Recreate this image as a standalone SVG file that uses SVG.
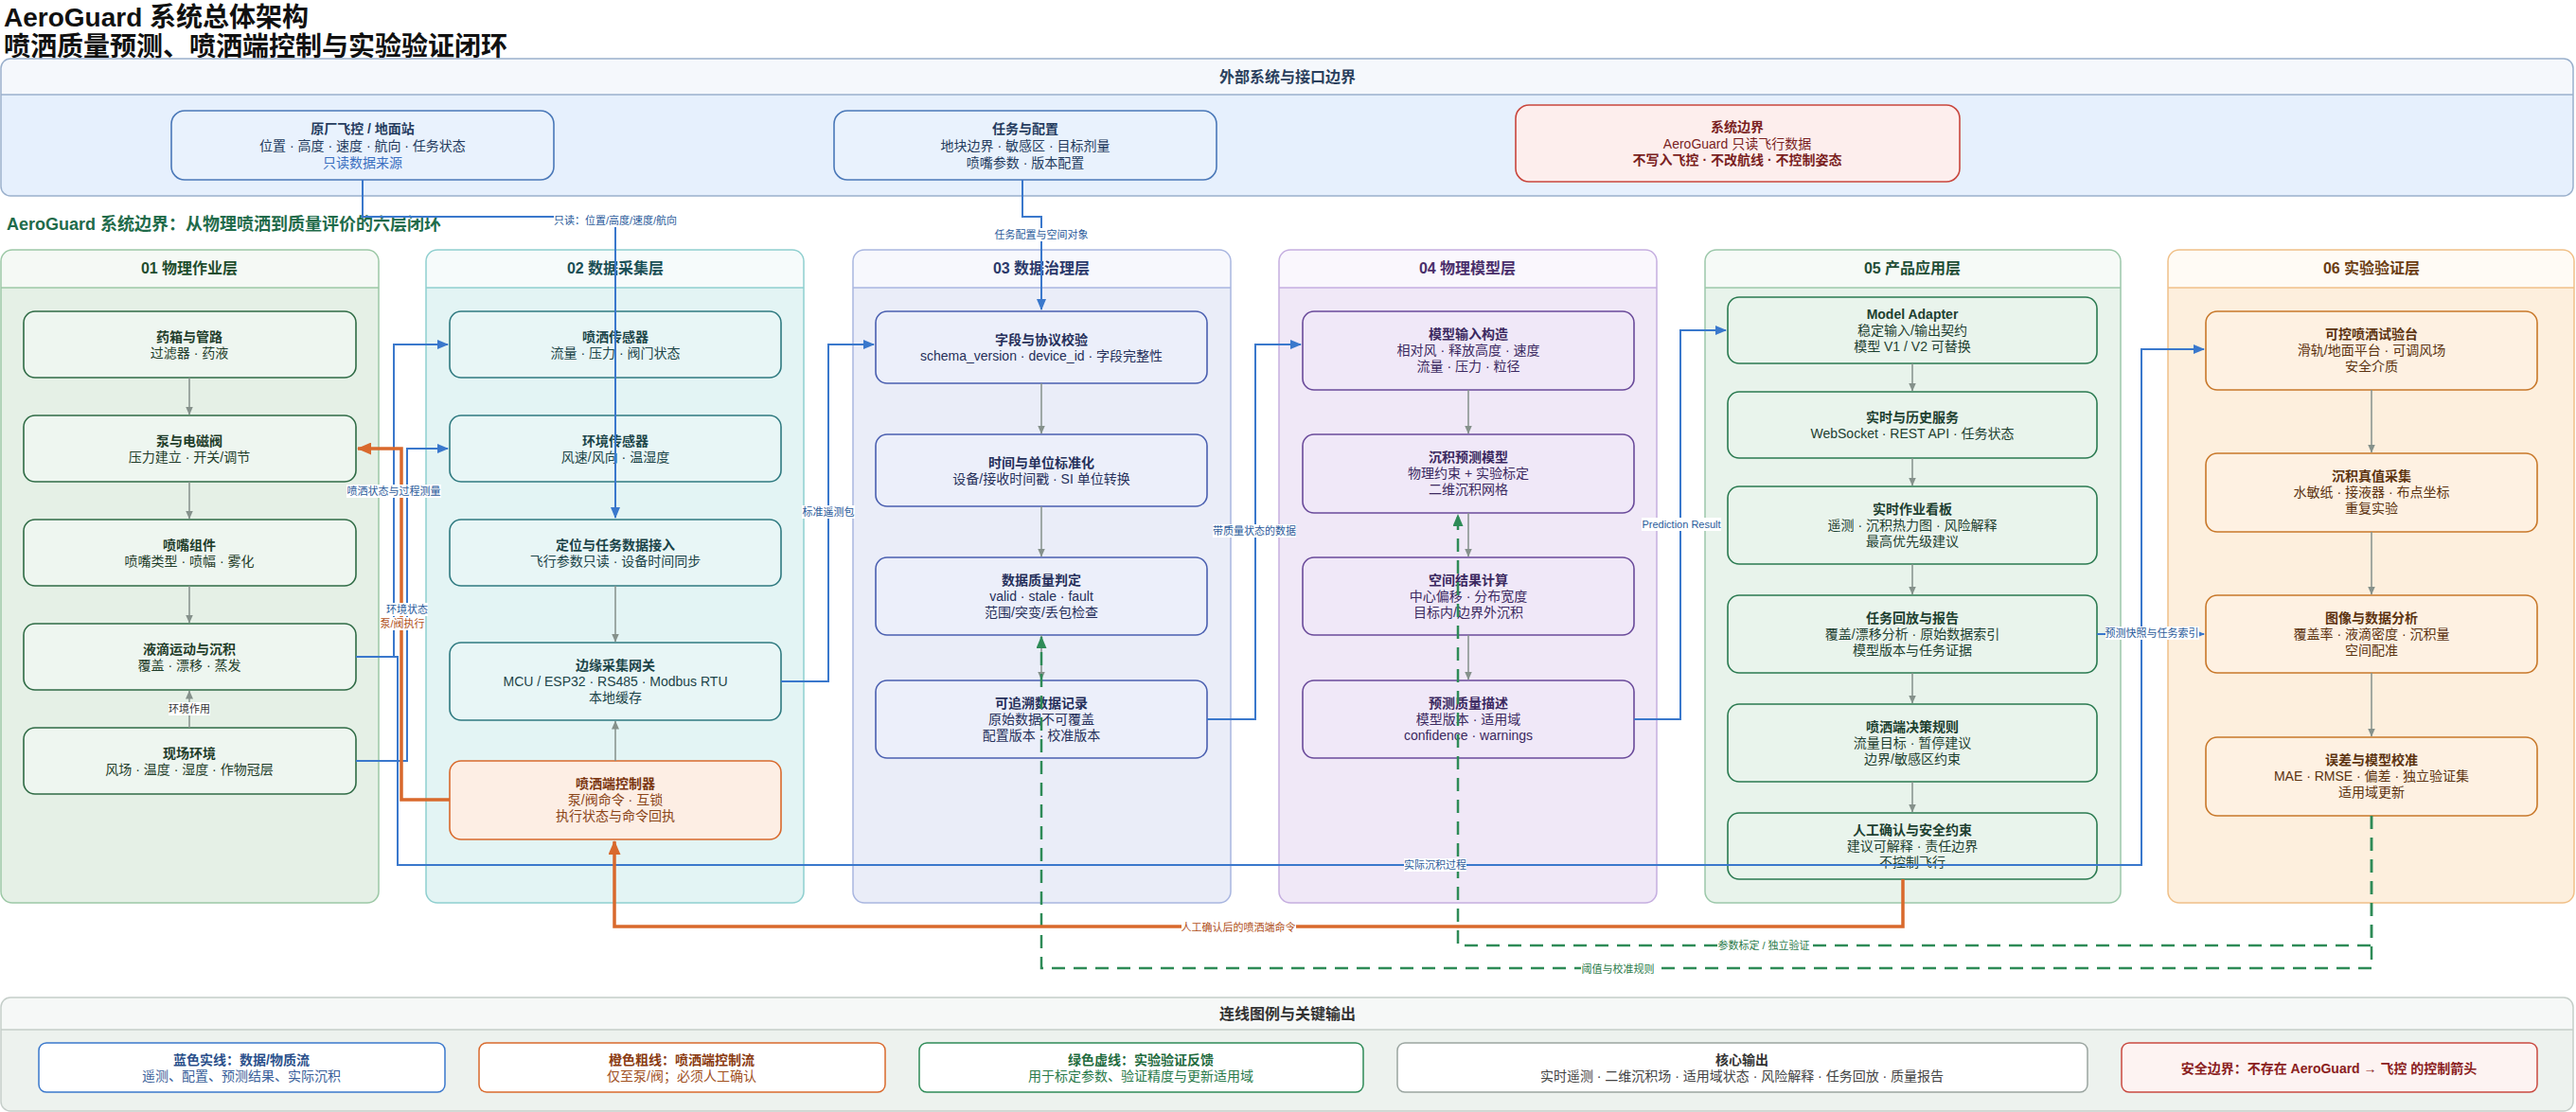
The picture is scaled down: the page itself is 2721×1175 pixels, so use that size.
<svg xmlns="http://www.w3.org/2000/svg" width="2721" height="1175" viewBox="0 0 2721 1175">
<style>
text{font-family:"Liberation Sans","Noto Sans CJK SC",sans-serif;dominant-baseline:central}
.ttl{font-size:28px;font-weight:bold;fill:#111}
.h{font-size:16px;font-weight:bold;text-anchor:middle}
.nt{font-size:14px;font-weight:bold;text-anchor:middle}
.ns{font-size:14px;text-anchor:middle}
.el{font-size:11px;text-anchor:middle}
.node rect{stroke-width:1.6}
.L1 rect{fill:#eef6f0;stroke:#2f6b45}.L1 text{fill:#1f3d2a}
.L2 rect{fill:#e8f6f6;stroke:#2f7a80}.L2 text{fill:#1b4448}
.L3 rect{fill:#eceffa;stroke:#4a5fb0}.L3 text{fill:#26305a}
.L4 rect{fill:#f0e8f8;stroke:#6a4a9a}.L4 text{fill:#3b2960}
.L5 rect{fill:#e9f4ec;stroke:#2a7a50}.L5 text{fill:#1d4030}
.L6 rect{fill:#fef1e2;stroke:#c8782a}.L6 text{fill:#5c3310}
.EX rect{fill:#e9f2fd;stroke:#4a78b8}.EX text{fill:#243b5e}
.lb{fill:#fff}
.cb{fill:none;stroke:#3a78cc;stroke-width:2}
.co{fill:none;stroke:#d9692c;stroke-width:3.5}
.cg{fill:none;stroke:#2e8b57;stroke-width:2.5;stroke-dasharray:14 9}
.cy{fill:none;stroke:#85918b;stroke-width:1.5}
.tb{fill:#2a5a9a}.to{fill:#b0501a}.tg{fill:#2a7a4a}
</style>
<defs>
<marker id="ab" markerWidth="12" markerHeight="10" refX="11" refY="5" orient="auto" markerUnits="userSpaceOnUse"><path d="M0,0 L12,5 L0,10 z" fill="#3a78cc"/></marker>
<marker id="ao" markerWidth="15" markerHeight="13" refX="14" refY="6.5" orient="auto" markerUnits="userSpaceOnUse"><path d="M0,0 L15,6.5 L0,13 z" fill="#d9692c"/></marker>
<marker id="ag" markerWidth="13" markerHeight="11" refX="12" refY="5.5" orient="auto" markerUnits="userSpaceOnUse"><path d="M0,0 L13,5.5 L0,11 z" fill="#2e8b57"/></marker>
<marker id="ay" markerWidth="9" markerHeight="8" refX="8.5" refY="4" orient="auto" markerUnits="userSpaceOnUse"><path d="M0,0 L9,4 L0,8 z" fill="#85918b"/></marker>
</defs>
<rect width="2721" height="1175" fill="#fff"/>
<text class="ttl" x="4" y="18">AeroGuard 系统总体架构</text>
<text class="ttl" x="4" y="49">喷洒质量预测、喷洒端控制与实验验证闭环</text>

<g id="external">
<rect x="1" y="62" width="2717" height="145" rx="10" fill="#e6f0fd"/>
<path d="M1,100 V72 a10,10 0 0 1 10,-10 H2708 a10,10 0 0 1 10,10 V100 Z" fill="#f5f8fc"/>
<line x1="1" y1="100" x2="2718" y2="100" stroke="#9ab0cc" stroke-width="1.5"/>
<rect x="1" y="62" width="2717" height="145" rx="10" fill="none" stroke="#9ab0cc" stroke-width="1.5"/>
<text class="h" x="1360" y="81" fill="#2a3f5c">外部系统与接口边界</text>
</g>
<text x="7" y="237" font-size="18" font-weight="bold" fill="#1f6b4a">AeroGuard 系统边界：从物理喷洒到质量评价的六层闭环</text>

<g id="layer01">
<rect x="1" y="264" width="399" height="690" rx="12" fill="#e5f0e6"/>
<path d="M1,304 V276 a12,12 0 0 1 12,-12 H388 a12,12 0 0 1 12,12 V304 Z" fill="#f5f9f5"/>
<line x1="1" y1="304" x2="400" y2="304" stroke="#9cc8a6" stroke-width="1.5"/>
<rect x="1" y="264" width="399" height="690" rx="12" fill="none" stroke="#9cc8a6" stroke-width="1.5"/>
<text class="h" x="200" y="283" fill="#1f4d2e">01 物理作业层</text>
</g>
<g id="layer02">
<rect x="450" y="264" width="399" height="690" rx="12" fill="#e3f4f4"/>
<path d="M450,304 V276 a12,12 0 0 1 12,-12 H837 a12,12 0 0 1 12,12 V304 Z" fill="#f6fbfb"/>
<line x1="450" y1="304" x2="849" y2="304" stroke="#8fcfcf" stroke-width="1.5"/>
<rect x="450" y="264" width="399" height="690" rx="12" fill="none" stroke="#8fcfcf" stroke-width="1.5"/>
<text class="h" x="650" y="283" fill="#1a4f55">02 数据采集层</text>
</g>
<g id="layer03">
<rect x="901" y="264" width="399" height="690" rx="12" fill="#eaedf8"/>
<path d="M901,304 V276 a12,12 0 0 1 12,-12 H1288 a12,12 0 0 1 12,12 V304 Z" fill="#f7f8fd"/>
<line x1="901" y1="304" x2="1300" y2="304" stroke="#a9b6e0" stroke-width="1.5"/>
<rect x="901" y="264" width="399" height="690" rx="12" fill="none" stroke="#a9b6e0" stroke-width="1.5"/>
<text class="h" x="1100" y="283" fill="#2b3a6b">03 数据治理层</text>
</g>
<g id="layer04">
<rect x="1351" y="264" width="399" height="690" rx="12" fill="#f0e8f7"/>
<path d="M1351,304 V276 a12,12 0 0 1 12,-12 H1738 a12,12 0 0 1 12,12 V304 Z" fill="#faf7fd"/>
<line x1="1351" y1="304" x2="1750" y2="304" stroke="#c5aee0" stroke-width="1.5"/>
<rect x="1351" y="264" width="399" height="690" rx="12" fill="none" stroke="#c5aee0" stroke-width="1.5"/>
<text class="h" x="1550" y="283" fill="#4a2f6b">04 物理模型层</text>
</g>
<g id="layer05">
<rect x="1801" y="264" width="439" height="690" rx="12" fill="#e8f3eb"/>
<path d="M1801,304 V276 a12,12 0 0 1 12,-12 H2228 a12,12 0 0 1 12,12 V304 Z" fill="#f6faf7"/>
<line x1="1801" y1="304" x2="2240" y2="304" stroke="#9cc8aa" stroke-width="1.5"/>
<rect x="1801" y="264" width="439" height="690" rx="12" fill="none" stroke="#9cc8aa" stroke-width="1.5"/>
<text class="h" x="2020" y="283" fill="#1f4d36">05 产品应用层</text>
</g>
<g id="layer06">
<rect x="2290" y="264" width="429" height="690" rx="12" fill="#fdefdd"/>
<path d="M2290,304 V276 a12,12 0 0 1 12,-12 H2707 a12,12 0 0 1 12,12 V304 Z" fill="#fffbf5"/>
<line x1="2290" y1="304" x2="2719" y2="304" stroke="#f0c088" stroke-width="1.5"/>
<rect x="2290" y="264" width="429" height="690" rx="12" fill="none" stroke="#f0c088" stroke-width="1.5"/>
<text class="h" x="2505" y="283" fill="#6b3d12">06 实验验证层</text>
</g>

<g id="legend">
<rect x="1" y="1054" width="2717" height="120" rx="10" fill="#edf2ee"/>
<path d="M1,1088 V1064 a10,10 0 0 1 10,-10 H2708 a10,10 0 0 1 10,10 V1088 Z" fill="#f6f8f7"/>
<line x1="1" y1="1088" x2="2718" y2="1088" stroke="#c5cec9" stroke-width="1.5"/>
<rect x="1" y="1054" width="2717" height="120" rx="10" fill="none" stroke="#c5cec9" stroke-width="1.5"/>
<text class="h" x="1360" y="1071" font-size="15" fill="#333">连线图例与关键输出</text>
</g>
<g id="legend-blue"><rect x="41" y="1102" width="429" height="52" rx="8" fill="#fff" stroke="#3a78cc" stroke-width="1.5"/><text class="nt" x="255" y="1120" font-size="13" fill="#2a4f8a">蓝色实线：数据/物质流</text><text class="ns" x="255" y="1137" font-size="13" fill="#3a5f9a">遥测、配置、预测结果、实际沉积</text></g>
<g id="legend-orange"><rect x="506" y="1102" width="429" height="52" rx="8" fill="#fff" stroke="#d9692c" stroke-width="1.5"/><text class="nt" x="720" y="1120" font-size="13" fill="#8a3a10">橙色粗线：喷洒端控制流</text><text class="ns" x="720" y="1137" font-size="13" fill="#a0501e">仅至泵/阀；必须人工确认</text></g>
<g id="legend-green"><rect x="971" y="1102" width="469" height="52" rx="8" fill="#fff" stroke="#2e8b57" stroke-width="1.5"/><text class="nt" x="1205" y="1120" font-size="13" fill="#1f6b3e">绿色虚线：实验验证反馈</text><text class="ns" x="1205" y="1137" font-size="13" fill="#2a7a4a">用于标定参数、验证精度与更新适用域</text></g>
<g id="legend-output"><rect x="1476" y="1102" width="729" height="52" rx="8" fill="#fff" stroke="#9aa5a0" stroke-width="1.5"/><text class="nt" x="1840" y="1120" font-size="13" fill="#333">核心输出</text><text class="ns" x="1840" y="1137" font-size="13" fill="#444">实时遥测 · 二维沉积场 · 适用域状态 · 风险解释 · 任务回放 · 质量报告</text></g>
<g id="legend-safety"><rect x="2241" y="1102" width="439" height="52" rx="8" fill="#fdf3f2" stroke="#c94a40" stroke-width="1.5"/><text class="nt" x="2460" y="1129" font-size="13" fill="#8a2020">安全边界：不存在 AeroGuard → 飞控 的控制箭头</text></g>

<g id="n-fc" class="node EX"><rect x="181" y="117" width="404" height="73" rx="14"/><text class="nt" x="383" y="136">原厂飞控 / 地面站</text><text class="ns" x="383" y="154">位置 · 高度 · 速度 · 航向 · 任务状态</text><text class="ns" x="383" y="172" style="fill:#3a6fc0">只读数据来源</text></g>
<g id="n-task" class="node EX"><rect x="881" y="117" width="404" height="73" rx="14"/><text class="nt" x="1083" y="136">任务与配置</text><text class="ns" x="1083" y="154">地块边界 · 敏感区 · 目标剂量</text><text class="ns" x="1083" y="172">喷嘴参数 · 版本配置</text></g>
<g id="n-boundary" class="node"><rect x="1601" y="111" width="469" height="81" rx="14" fill="#fdeeed" stroke="#c9463d" stroke-width="2.5"/><text class="nt" x="1835" y="134" fill="#7a1f1f">系统边界</text><text class="ns" x="1835" y="152" fill="#7a1f1f">AeroGuard 只读飞行数据</text><text class="nt" x="1835" y="169" fill="#7a1f1f">不写入飞控 · 不改航线 · 不控制姿态</text></g>

<g id="n-tank" class="node L1"><rect x="25" y="329" width="351" height="70" rx="12"/><text class="nt" x="200" y="356">药箱与管路</text><text class="ns" x="200" y="373">过滤器 · 药液</text></g>
<g id="n-pump" class="node L1"><rect x="25" y="439" width="351" height="70" rx="12"/><text class="nt" x="200" y="466">泵与电磁阀</text><text class="ns" x="200" y="483">压力建立 · 开关/调节</text></g>
<g id="n-nozzle" class="node L1"><rect x="25" y="549" width="351" height="70" rx="12"/><text class="nt" x="200" y="576">喷嘴组件</text><text class="ns" x="200" y="593">喷嘴类型 · 喷幅 · 雾化</text></g>
<g id="n-droplet" class="node L1"><rect x="25" y="659" width="351" height="70" rx="12"/><text class="nt" x="200" y="686">液滴运动与沉积</text><text class="ns" x="200" y="703">覆盖 · 漂移 · 蒸发</text></g>
<g id="n-field" class="node L1"><rect x="25" y="769" width="351" height="70" rx="12"/><text class="nt" x="200" y="796">现场环境</text><text class="ns" x="200" y="813">风场 · 温度 · 湿度 · 作物冠层</text></g>

<g id="n-spraysensor" class="node L2"><rect x="475" y="329" width="350" height="70" rx="12"/><text class="nt" x="650" y="356">喷洒传感器</text><text class="ns" x="650" y="373">流量 · 压力 · 阀门状态</text></g>
<g id="n-envsensor" class="node L2"><rect x="475" y="439" width="350" height="70" rx="12"/><text class="nt" x="650" y="466">环境传感器</text><text class="ns" x="650" y="483">风速/风向 · 温湿度</text></g>
<g id="n-position" class="node L2"><rect x="475" y="549" width="350" height="70" rx="12"/><text class="nt" x="650" y="576">定位与任务数据接入</text><text class="ns" x="650" y="593">飞行参数只读 · 设备时间同步</text></g>
<g id="n-gateway" class="node L2"><rect x="475" y="679" width="350" height="82" rx="12"/><text class="nt" x="650" y="703">边缘采集网关</text><text class="ns" x="650" y="720">MCU / ESP32 · RS485 · Modbus RTU</text><text class="ns" x="650" y="737">本地缓存</text></g>
<g id="n-controller" class="node"><rect x="475" y="804" width="350" height="83" rx="12" fill="#fdeee4" stroke="#d9692c" stroke-width="2.5"/><text class="nt" x="650" y="828" fill="#7a3510">喷洒端控制器</text><text class="ns" x="650" y="845" fill="#8a4518">泵/阀命令 · 互锁</text><text class="ns" x="650" y="862" fill="#8a4518">执行状态与命令回执</text></g>

<g id="n-schema" class="node L3"><rect x="925" y="329" width="350" height="76" rx="12"/><text class="nt" x="1100" y="359">字段与协议校验</text><text class="ns" x="1100" y="376">schema_version · device_id · 字段完整性</text></g>
<g id="n-time" class="node L3"><rect x="925" y="459" width="350" height="76" rx="12"/><text class="nt" x="1100" y="489">时间与单位标准化</text><text class="ns" x="1100" y="506">设备/接收时间戳 · SI 单位转换</text></g>
<g id="n-dq" class="node L3"><rect x="925" y="589" width="350" height="82" rx="12"/><text class="nt" x="1100" y="613">数据质量判定</text><text class="ns" x="1100" y="630">valid · stale · fault</text><text class="ns" x="1100" y="647">范围/突变/丢包检查</text></g>
<g id="n-trace" class="node L3"><rect x="925" y="719" width="350" height="82" rx="12"/><text class="nt" x="1100" y="743">可追溯数据记录</text><text class="ns" x="1100" y="760">原始数据不可覆盖</text><text class="ns" x="1100" y="777">配置版本 · 校准版本</text></g>

<g id="n-input" class="node L4"><rect x="1376" y="329" width="350" height="83" rx="12"/><text class="nt" x="1551" y="353">模型输入构造</text><text class="ns" x="1551" y="370">相对风 · 释放高度 · 速度</text><text class="ns" x="1551" y="387">流量 · 压力 · 粒径</text></g>
<g id="n-deposit" class="node L4"><rect x="1376" y="459" width="350" height="83" rx="12"/><text class="nt" x="1551" y="483">沉积预测模型</text><text class="ns" x="1551" y="500">物理约束 + 实验标定</text><text class="ns" x="1551" y="517">二维沉积网格</text></g>
<g id="n-spatial" class="node L4"><rect x="1376" y="589" width="350" height="82" rx="12"/><text class="nt" x="1551" y="613">空间结果计算</text><text class="ns" x="1551" y="630">中心偏移 · 分布宽度</text><text class="ns" x="1551" y="647">目标内/边界外沉积</text></g>
<g id="n-predq" class="node L4"><rect x="1376" y="719" width="350" height="82" rx="12"/><text class="nt" x="1551" y="743">预测质量描述</text><text class="ns" x="1551" y="760">模型版本 · 适用域</text><text class="ns" x="1551" y="777">confidence · warnings</text></g>

<g id="n-adapter" class="node L5"><rect x="1825" y="314" width="390" height="70" rx="12"/><text class="nt" x="2020" y="332">Model Adapter</text><text class="ns" x="2020" y="349">稳定输入/输出契约</text><text class="ns" x="2020" y="366">模型 V1 / V2 可替换</text></g>
<g id="n-service" class="node L5"><rect x="1825" y="414" width="390" height="70" rx="12"/><text class="nt" x="2020" y="441">实时与历史服务</text><text class="ns" x="2020" y="458">WebSocket · REST API · 任务状态</text></g>
<g id="n-dashboard" class="node L5"><rect x="1825" y="514" width="390" height="82" rx="12"/><text class="nt" x="2020" y="538">实时作业看板</text><text class="ns" x="2020" y="555">遥测 · 沉积热力图 · 风险解释</text><text class="ns" x="2020" y="572">最高优先级建议</text></g>
<g id="n-replay" class="node L5"><rect x="1825" y="629" width="390" height="82" rx="12"/><text class="nt" x="2020" y="653">任务回放与报告</text><text class="ns" x="2020" y="670">覆盖/漂移分析 · 原始数据索引</text><text class="ns" x="2020" y="687">模型版本与任务证据</text></g>
<g id="n-rules" class="node L5"><rect x="1825" y="744" width="390" height="82" rx="12"/><text class="nt" x="2020" y="768">喷洒端决策规则</text><text class="ns" x="2020" y="785">流量目标 · 暂停建议</text><text class="ns" x="2020" y="802">边界/敏感区约束</text></g>
<g id="n-confirm" class="node L5"><rect x="1825" y="859" width="390" height="70" rx="12"/><text class="nt" x="2020" y="877">人工确认与安全约束</text><text class="ns" x="2020" y="894">建议可解释 · 责任边界</text><text class="ns" x="2020" y="911">不控制飞行</text></g>

<g id="n-testbed" class="node L6"><rect x="2330" y="329" width="350" height="83" rx="12"/><text class="nt" x="2505" y="353">可控喷洒试验台</text><text class="ns" x="2505" y="370">滑轨/地面平台 · 可调风场</text><text class="ns" x="2505" y="387">安全介质</text></g>
<g id="n-truth" class="node L6"><rect x="2330" y="479" width="350" height="83" rx="12"/><text class="nt" x="2505" y="503">沉积真值采集</text><text class="ns" x="2505" y="520">水敏纸 · 接液器 · 布点坐标</text><text class="ns" x="2505" y="537">重复实验</text></g>
<g id="n-image" class="node L6"><rect x="2330" y="629" width="350" height="82" rx="12"/><text class="nt" x="2505" y="653">图像与数据分析</text><text class="ns" x="2505" y="670">覆盖率 · 液滴密度 · 沉积量</text><text class="ns" x="2505" y="687">空间配准</text></g>
<g id="n-calib" class="node L6"><rect x="2330" y="779" width="350" height="83" rx="12"/><text class="nt" x="2505" y="803">误差与模型校准</text><text class="ns" x="2505" y="820">MAE · RMSE · 偏差 · 独立验证集</text><text class="ns" x="2505" y="837">适用域更新</text></g>

<g id="connectors">
<path class="cy" d="M200,399 V438" marker-end="url(#ay)"/>
<path class="cy" d="M200,509 V548" marker-end="url(#ay)"/>
<path class="cy" d="M200,619 V658" marker-end="url(#ay)"/>
<path class="cy" d="M200,769 V730" marker-end="url(#ay)"/>
<path class="cy" d="M650,619 V678" marker-end="url(#ay)"/>
<path class="cy" d="M650,804 V762" marker-end="url(#ay)"/>
<path class="cy" d="M1100,405 V458" marker-end="url(#ay)"/>
<path class="cy" d="M1100,535 V588" marker-end="url(#ay)"/>
<path class="cy" d="M1100,671 V718" marker-end="url(#ay)"/>
<path class="cy" d="M1551,412 V458" marker-end="url(#ay)"/>
<path class="cy" d="M1551,542 V588" marker-end="url(#ay)"/>
<path class="cy" d="M1551,671 V718" marker-end="url(#ay)"/>
<path class="cy" d="M2020,384 V413" marker-end="url(#ay)"/>
<path class="cy" d="M2020,484 V513" marker-end="url(#ay)"/>
<path class="cy" d="M2020,596 V628" marker-end="url(#ay)"/>
<path class="cy" d="M2020,711 V743" marker-end="url(#ay)"/>
<path class="cy" d="M2020,826 V858" marker-end="url(#ay)"/>
<path class="cy" d="M2505,412 V478" marker-end="url(#ay)"/>
<path class="cy" d="M2505,562 V628" marker-end="url(#ay)"/>
<path class="cy" d="M2505,711 V778" marker-end="url(#ay)"/>
<rect class="lb" x="178" y="742" width="44" height="14"/><text class="el" x="200" y="749" fill="#333">环境作用</text>

<path class="cg" d="M2505,862 V999 H1540 V544" marker-end="url(#ag)"/>
<path class="cg" d="M2505,862 V1023 H1100 V673" marker-end="url(#ag)"/>

<path class="cb" d="M383,190 V229 H650 V547" marker-end="url(#ab)"/>
<path class="cb" d="M1080,190 V229 H1100 V327" marker-end="url(#ab)"/>
<path class="cb" d="M376,694 H416 V364 H473" marker-end="url(#ab)"/>
<path class="cb" d="M376,804 H430 V474 H473" marker-end="url(#ab)"/>
<path class="cb" d="M376,694 H420 V914 H2262 V369 H2328" marker-end="url(#ab)"/>
<path class="cb" d="M825,720 H875 V364 H923" marker-end="url(#ab)"/>
<path class="cb" d="M1275,760 H1326 V364 H1374" marker-end="url(#ab)"/>
<path class="cb" d="M1726,760 H1775 V349 H1823" marker-end="url(#ab)"/>
<path class="cb" d="M2215,670 H2328" marker-end="url(#ab)"/>

<path class="co" d="M475,845 H424 V474 H378" marker-end="url(#ao)"/>
<path class="co" d="M2010,929 V979 H649 V889" marker-end="url(#ao)"/>

<rect class="lb" x="585" y="227" width="129" height="13"/><text class="el tb" x="650" y="233" font-size="10">只读：位置/高度/速度/航向</text>
<rect class="lb" x="1050" y="241" width="100" height="14"/><text class="el tb" x="1100" y="248">任务配置与空间对象</text>
<rect class="lb" x="366" y="512" width="100" height="14"/><text class="el tb" x="416" y="519">喷洒状态与过程测量</text>
<rect class="lb" x="408" y="637" width="44" height="14"/><text class="el tb" x="430" y="644">环境状态</text>
<rect class="lb" x="401" y="652" width="48" height="14"/><text class="el to" x="425" y="659">泵/阀执行</text>
<rect class="lb" x="1483" y="907" width="66" height="14"/><text class="el tb" x="1516" y="914">实际沉积过程</text>
<rect class="lb" x="847" y="534" width="56" height="14"/><text class="el tb" x="875" y="541">标准遥测包</text>
<rect class="lb" x="1281" y="554" width="88" height="14"/><text class="el tb" x="1325" y="561">带质量状态的数据</text>
<rect class="lb" x="1734" y="547" width="84" height="14"/><text class="el tb" x="1776" y="554">Prediction Result</text>
<rect class="lb" x="2224" y="662" width="99" height="14"/><text class="el tb" x="2273" y="669">预测快照与任务索引</text>
<rect class="lb" x="1248" y="973" width="121" height="14" fill="#fdf5ef"/><text class="el to" x="1308" y="980">人工确认后的喷洒端命令</text>
<rect class="lb" x="1814" y="992" width="99" height="14"/><text class="el tg" x="1863" y="999">参数标定 / 独立验证</text>
<rect class="lb" x="1670" y="1017" width="78" height="14"/><text class="el tg" x="1709" y="1024">阈值与校准规则</text>
</g>
</svg>
